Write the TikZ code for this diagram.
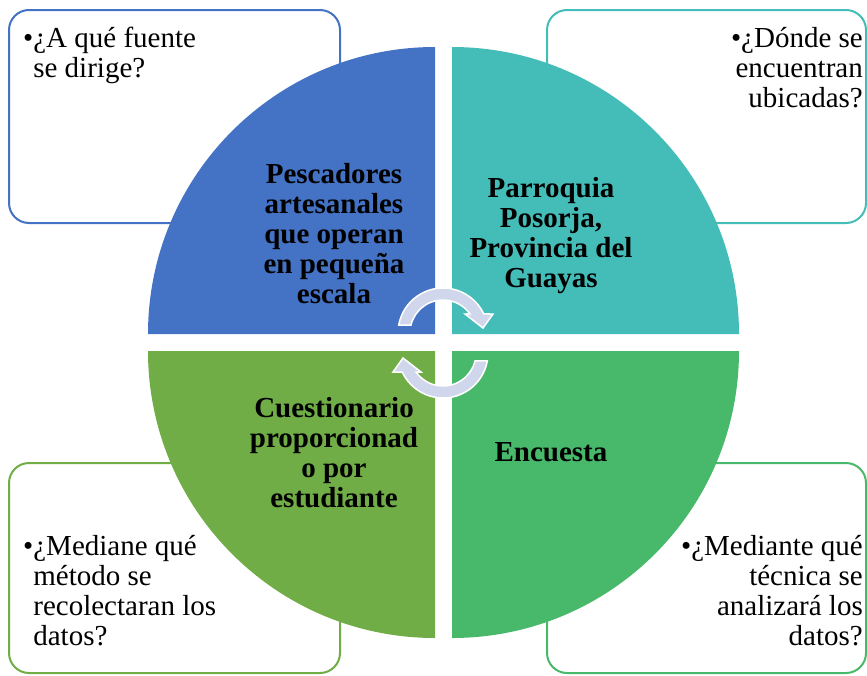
\documentclass[tikz,border=0pt]{standalone}
\usepackage{fontspec}
\setmainfont{Liberation Serif}
\definecolor{cblue}{HTML}{4472C4}
\definecolor{cteal}{HTML}{44BDB8}
\definecolor{cgreenA}{HTML}{70AD47}
\definecolor{cgreenB}{HTML}{48B96B}
\definecolor{arrowc}{HTML}{D0D6EB}
\newcommand\mytightlines{\lineskiplimit=-20pt\relax}
\begin{document}
\begin{tikzpicture}[x=1pt,y=-1pt,
  qbox/.style={line width=2pt, rounded corners=20pt, fill=white, inner sep=0pt},
  qtext/.style={inner sep=0pt, font=\fontsize{29}{30}\selectfont\mytightlines},
  ctext/.style={inner sep=0pt, align=center, font=\fontsize{29}{30}\selectfont\bfseries\mytightlines},
  cyc/.style={fill=arrowc, draw=white, line width=1.5pt, line join=miter}]
\useasboundingbox (0,0) rectangle (867,675);
% corner boxes
\node[qbox, draw=cblue,   minimum width=331pt, minimum height=213pt] (b1) at (174.5,116.5) {};
\node[qbox, draw=cteal,   minimum width=319pt, minimum height=213pt] (b2) at (706.5,116.5) {};
\node[qbox, draw=cgreenA, minimum width=331pt, minimum height=210pt] (b3) at (174.5,568) {};
\node[qbox, draw=cgreenB, minimum width=319pt, minimum height=210pt] (b4) at (706.5,568) {};
% box texts
\node[qtext, align=left, anchor=north west] (t1) at (23,20)
  {\rule{0pt}{27pt}•¿A qué fuente\\\hphantom{•}se dirige?};
\node[qtext, align=right, anchor=north east] (t2) at (863,20)
  {\rule{0pt}{27pt}•¿Dónde se\\encuentran\\ubicadas?};
\node[qtext, align=left, anchor=north west] (t3) at (23,528)
  {\rule{0pt}{27pt}•¿Mediane qué\\\hphantom{•}método se\\\hphantom{•}recolectaran los\\\hphantom{•}datos?};
\node[qtext, align=right, anchor=north east] (t4) at (863,528)
  {\rule{0pt}{27pt}•¿Mediante qué\\técnica se\\analizará los\\datos?};
% quadrants
\fill[cblue]   (435,334) -- (148,334) arc[start angle=180, end angle=270, radius=287] -- cycle;
\fill[cteal]   (452,334) -- (452,47) arc[start angle=270, end angle=360, radius=287] -- cycle;
\fill[cgreenA] (435,351) -- (435,638) arc[start angle=90, end angle=180, radius=287] -- cycle;
\fill[cgreenB] (452,351) -- (739,351) arc[start angle=0, end angle=90, radius=287] -- cycle;
% quadrant texts
\node[ctext, anchor=north] (q1) at (334,156)
  {\rule{0pt}{27pt}Pescadores\\artesanales\\que operan\\en pequeña\\escala};
\node[ctext, anchor=north] (q2) at (551,170)
  {\rule{0pt}{27pt}Parroquia\\Posorja,\\Provincia del\\Guayas};
\node[ctext, anchor=north] (q3) at (334,390)
  {\rule{0pt}{27pt}Cuestionario\\proporcionad\\o por\\estudiante};
\node[ctext, anchor=north] (q4) at (551,434)
  {\rule{0pt}{27pt}Encuesta};
% cycle arrows
\begin{scope}[shift={(443,333)}]
  \path[cyc] (190:45) arc[start angle=190, end angle=335, radius=45]
    -- (50,-19) -- (40,-5) -- (22,-19) -- (324.8:33)
    arc[start angle=324.8, end angle=194, radius=33] -- cycle;
\end{scope}
\begin{scope}[shift={(443,353)}, rotate=180]
  \path[cyc] (190:45) arc[start angle=190, end angle=335, radius=45]
    -- (50,-19) -- (40,-5) -- (22,-19) -- (324.8:33)
    arc[start angle=324.8, end angle=194, radius=33] -- cycle;
\end{scope}
\end{tikzpicture}
\end{document}
